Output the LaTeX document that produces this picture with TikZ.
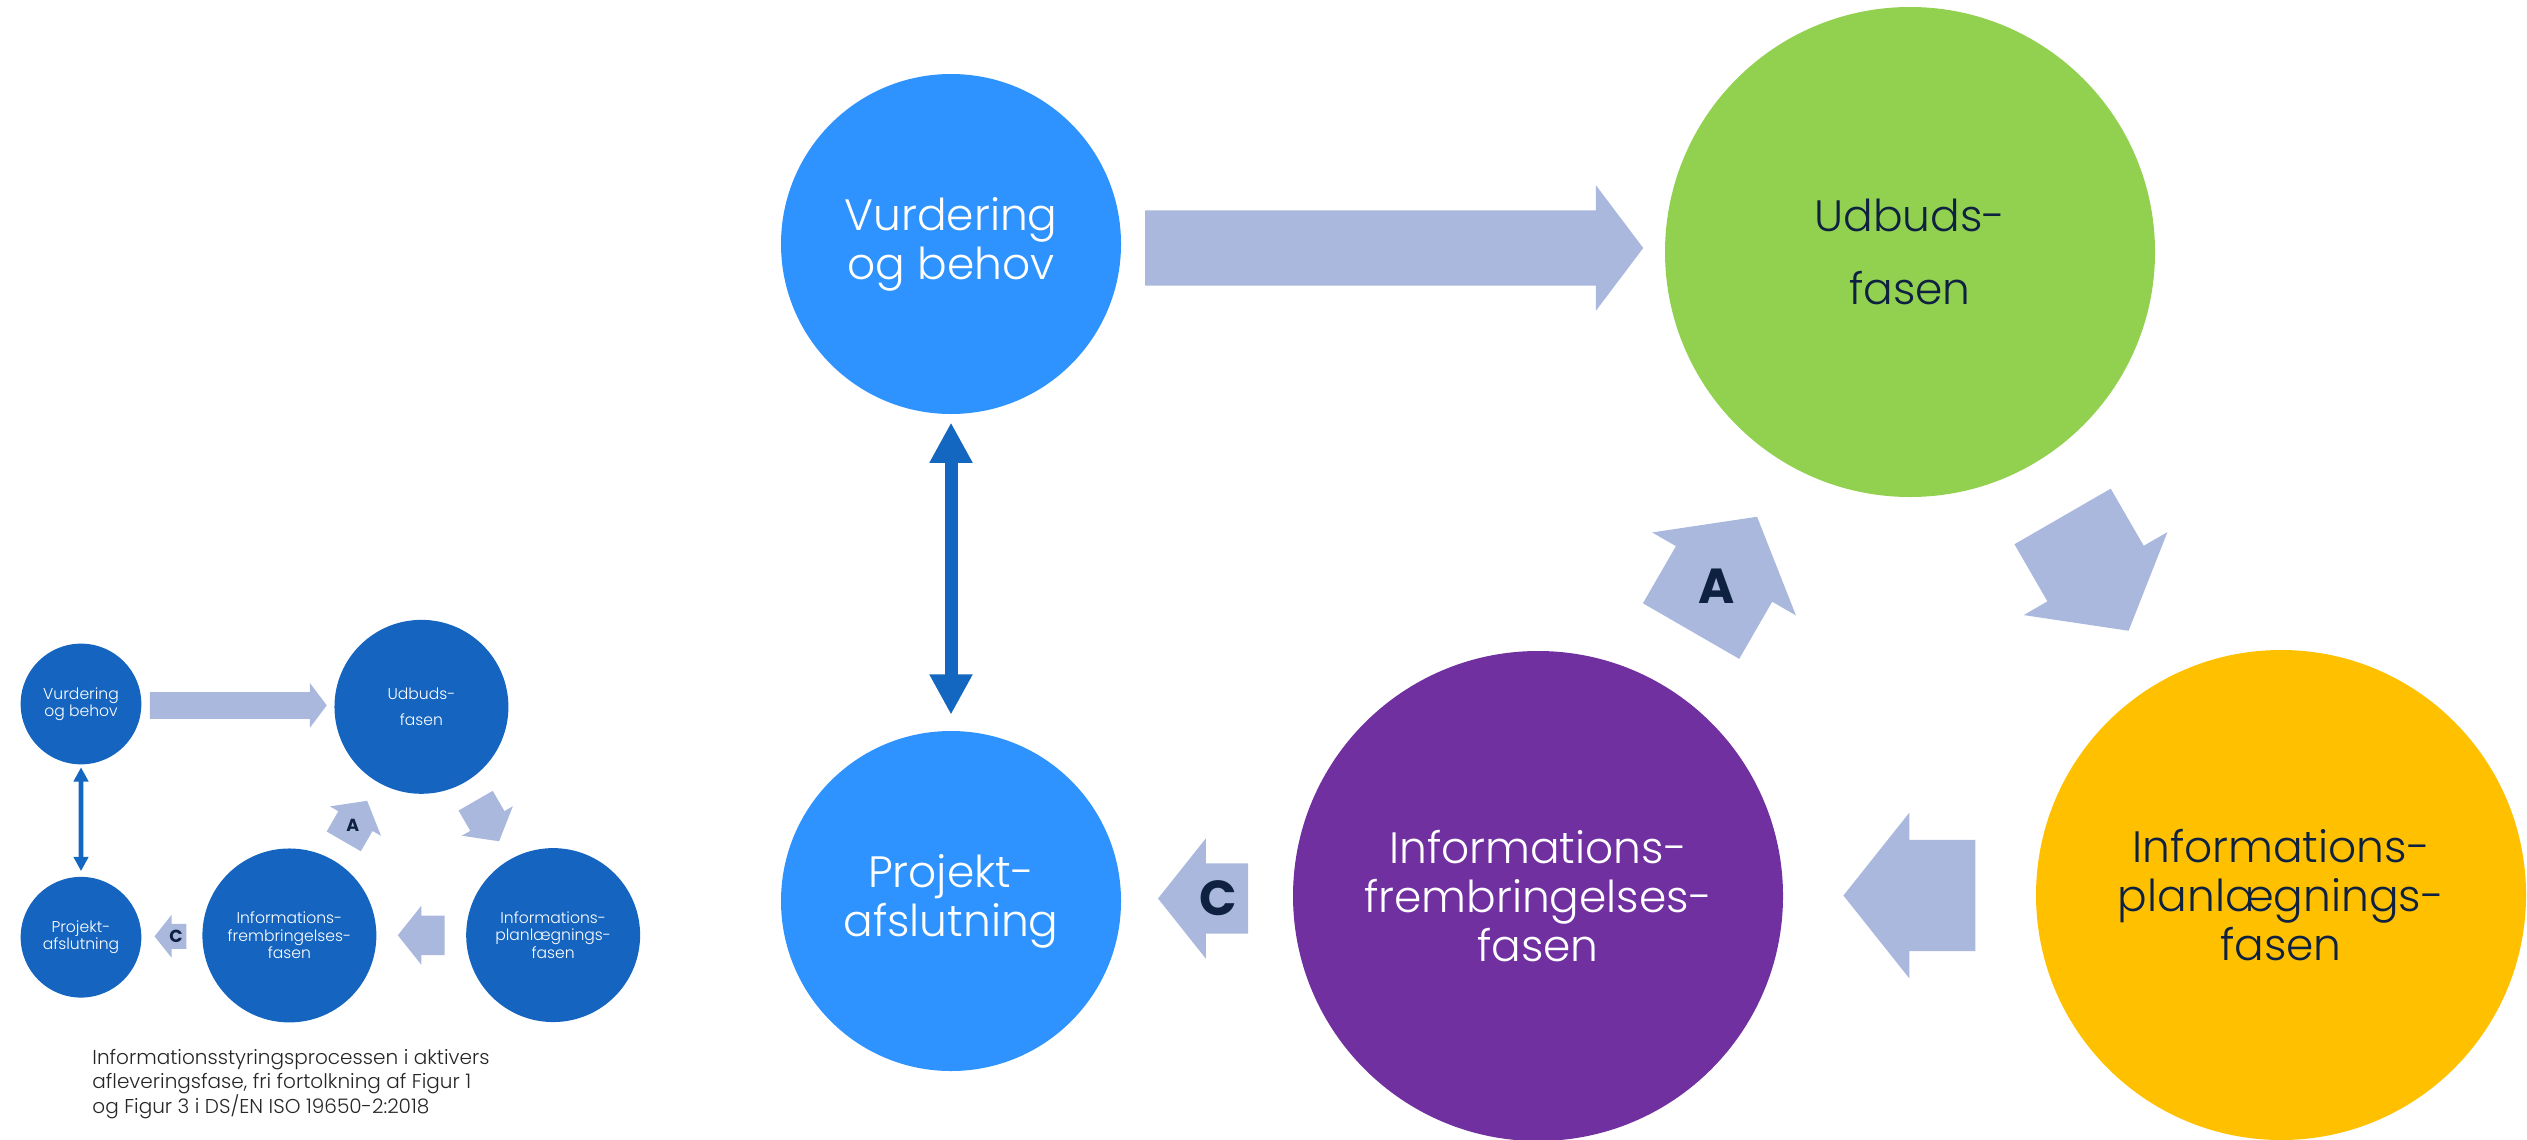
\documentclass[tikz,border=0pt]{standalone}
\usepackage{fontspec}
\setmainfont{Poppins}[UprightFont={* Light},BoldFont={* Bold}]
\usetikzlibrary{shapes.arrows,arrows.meta,calc}

\definecolor{skyblue}{HTML}{2E93FF}
\definecolor{leafgreen}{HTML}{92D050}
\definecolor{gold}{HTML}{FFC000}
\definecolor{plum}{HTML}{7030A0}
\definecolor{flowgrey}{HTML}{A9B8DC}
\definecolor{navy}{HTML}{0E2140}
\definecolor{linkblue}{HTML}{1467C0}
\definecolor{minblue}{HTML}{1565C0}

\colorlet{vbcol}{skyblue}   \colorlet{vbtxt}{white}
\colorlet{udcol}{leafgreen} \colorlet{udtxt}{navy}
\colorlet{plcol}{gold}      \colorlet{pltxt}{navy}
\colorlet{frcol}{plum}      \colorlet{frtxt}{white}
\colorlet{pacol}{skyblue}   \colorlet{patxt}{white}
\newcommand{\linkw}{0.13cm}
\newcommand{\capfont}{\fontsize{5.7pt}{7pt}\selectfont\lineskiplimit=-20pt\relax}

\newcommand{\fasediagram}{%
  \node[phase, fill=vbcol, text=vbtxt, minimum size=3.4cm] (vb) at (9.51,8.95) {Vurdering\\og behov};
  \node[phase, fill=udcol, text=udtxt, minimum size=4.9cm, font=\fontsize{12.5pt}{20.8pt}\selectfont] (ud) at (19.10,8.87) {Udbuds-\\fasen};
  \node[phase, fill=plcol, text=pltxt, minimum size=4.9cm] (pl) at (22.81,2.44) {Informations-\\planlægnings-\\fasen};
  \node[phase, fill=frcol, text=frtxt, minimum size=4.9cm] (fr) at (15.38,2.43) {Informations-\\frembringelses-\\fasen};
  \node[phase, fill=pacol, text=patxt, minimum size=3.4cm] (pa) at (9.51,2.38) {Projekt-\\afslutning};
  % pile mellem faserne
  \node[flow, inner ysep=0.37cm, minimum height=4.98cm, minimum width=1.23cm, single arrow tip angle=106, xshift=-0.13cm] (vbud) at ($(vb.east)!0.5!(ud.west)$) {};
  \node[flow, rotate=-60, xshift=-0.22cm] (udpl) at ($(ud)!0.5!(pl)$) {};
  \node[flow, rotate=180, xshift=-0.22cm] (plfr) at ($(pl.west)!0.5!(fr.east)$) {};
  \node[flow, rotate=60, xshift=-0.22cm] (frud) at ($(fr)!0.5!(ud)$) {};
  \node[flow, inner ysep=0.345cm, minimum height=0.9cm, minimum width=1.14cm, rotate=180, xshift=-0.1cm] (frpa) at ($(fr.west)!0.5!(pa.east)$) {};
  \node[letter] (la) at ($(frud.tail)!0.39!(frud.tip)$) {A};
  \node[letter] (lc) at ($(frpa.tail)!0.33!(frpa.tip)$) {C};
  \draw[link=\linkw] (vb) -- (pa);
}

\begin{document}
\begin{tikzpicture}[
    phase/.style={circle, inner sep=0pt, align=center, font=\fontsize{12.5pt}{14pt}\selectfont},
    flow/.style={single arrow, fill=flowgrey, inner sep=0pt, inner ysep=0.5cm, minimum height=1.32cm,
      minimum width=1.66cm, single arrow tip angle=103},
    letter/.style={inner sep=0pt, text=navy, font=\bfseries\fontsize{14pt}{14pt}\selectfont},
    link/.style={draw=linkblue, line width=#1, {Triangle[length=0pt 3.1,width=0pt 3.1]}-{Triangle[length=0pt 3.1,width=0pt 3.1]},
      shorten <=0.6*#1, shorten >=1.2*#1}
  ]
  \useasboundingbox (0,0) rectangle (25.27,11.39);

  \fasediagram

  % lille udgave af figuren
  \begin{scope}[shift={(-2.566,1.173)}, scale=0.355, transform shape, name prefix=s-]
    \colorlet{vbcol}{minblue} \colorlet{udcol}{minblue} \colorlet{plcol}{minblue}
    \colorlet{frcol}{minblue} \colorlet{pacol}{minblue}
    \colorlet{udtxt}{white} \colorlet{pltxt}{white}
    \renewcommand{\linkw}{0.046cm}
    \fasediagram
  \end{scope}

  \node[anchor=west, align=left, text=black!85, font=\capfont] (cap) at (0.80,0.55)
    {Informationsstyringsprocessen i aktivers\\afleveringsfase, fri fortolkning af Figur 1\\og Figur 3 i DS/EN ISO 19650-2:2018};
\end{tikzpicture}
\end{document}
